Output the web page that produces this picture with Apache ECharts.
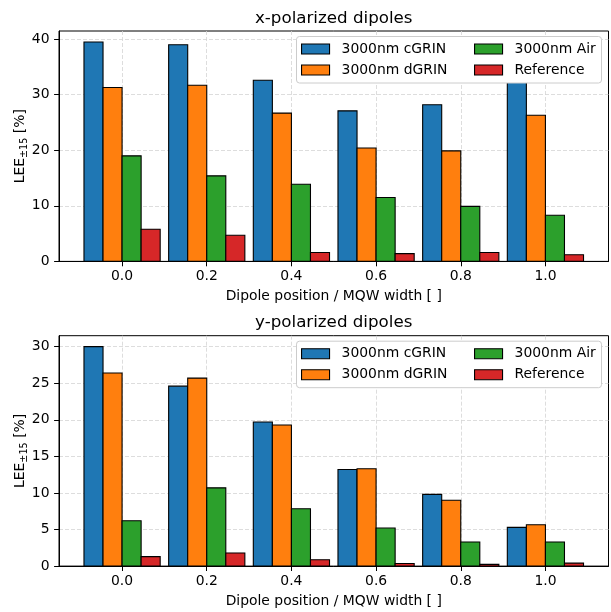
<!DOCTYPE html>
<html><head><meta charset="utf-8">
<script src="https://cdn.jsdelivr.net/npm/echarts@6/dist/echarts.min.js"></script>
<style>html,body{margin:0;padding:0;background:#fff}#c{width:611px;height:612px}</style>
</head><body><div id="c"></div>
<script>
// ---- data ----
const positions = [0.0, 0.2, 0.4, 0.6, 0.8, 1.0];
const seriesNames = ['3000nm cGRIN', '3000nm dGRIN', '3000nm Air', 'Reference'];
const xCGRIN = [39.5, 39.0, 32.6, 27.1, 28.2, 33.0];
const xDGRIN = [31.3, 31.7, 26.7, 20.4, 19.9, 26.3];
const xAir   = [19.0, 15.4, 13.9, 11.5, 9.9, 8.3];
const xRef   = [5.8, 4.7, 1.6, 1.4, 1.6, 1.2];
const yCGRIN = [30.0, 24.6, 19.7, 13.2, 9.8, 5.3];
const yDGRIN = [26.4, 25.7, 19.3, 13.3, 9.0, 5.65];
const yAir   = [6.2, 10.7, 7.85, 5.2, 3.3, 3.3];
const yRef   = [1.3, 1.8, 0.87, 0.36, 0.23, 0.41];
const xTicks = [0.0, 0.2, 0.4, 0.6, 0.8, 1.0];
const yTicksTop = [0, 10, 20, 30, 40];
const yTicksBottom = [0, 5, 10, 15, 20, 25, 30];
const titles = ['x-polarized dipoles', 'y-polarized dipoles'];
const xName = 'Dipole position / MQW width [ ]';
const yName = 'LEE{s|±15} [%]';

// ---- style ----
const FONT = 'DejaVu Sans';
const colors = ['#1f77b4', '#ff7f0e', '#2ca02c', '#d62728'];
const BAR_W = 0.045;
const X_MIN = -0.149, X_MAX = 1.149;
const gridTops = [31, 335.7];
const gridH = 230.4;
const GL = 59, GR = 2.5;

const groups = [
  {vals: [xCGRIN, xDGRIN, xAir, xRef], ticks: yTicksTop},
  {vals: [yCGRIN, yDGRIN, yAir, yRef], ticks: yTicksBottom}
];

const txt = {fontFamily: FONT, fontSize: 13.9, color: '#000'};
const splitStyle = {show: true, lineStyle: {color: '#d4d4d4', type: [4, 2], width: 0.8}};

const grid = [], xAxis = [], yAxis = [], series = [], legend = [], graphic = [];
groups.forEach((g, gi) => {
  const top = gridTops[gi];
  grid.push({left: GL, right: GR, top: top, height: gridH, show: true, containLabel: false,
    outerBoundsMode: 'none',
    borderColor: '#000', borderWidth: 1, backgroundColor: 'transparent'});
  xAxis.push({type: 'value', gridIndex: gi, min: X_MIN, max: X_MAX,
    axisLine: {show: true, onZero: false, lineStyle: {color: '#000', width: 1}},
    axisTick: {show: true, length: 4.9, customValues: xTicks, lineStyle: {color: '#000', width: 1}},
    axisLabel: Object.assign({customValues: xTicks, margin: 8, formatter: v => Number(v).toFixed(1)}, txt),
    splitLine: splitStyle, nameMoveOverlap: false,
    name: xName, nameLocation: 'middle', nameGap: 28, nameTextStyle: txt});
  const allVals = [].concat(...g.vals);
  yAxis.push({type: 'value', gridIndex: gi, min: 0, max: Math.max(...allVals) * 1.05,
    axisLine: {show: true, onZero: false, lineStyle: {color: '#000', width: 1}},
    axisTick: {show: true, length: 4.9, customValues: g.ticks, lineStyle: {color: '#000', width: 1}},
    axisLabel: Object.assign({customValues: g.ticks, margin: 9.5}, txt),
    splitLine: splitStyle, nameMoveOverlap: false,
    name: yName, nameLocation: 'middle', nameGap: 30,
    nameTextStyle: Object.assign({lineHeight: 18, rich: {s: {fontFamily: FONT, fontSize: 9.7, color: '#000', verticalAlign: 'bottom'}}}, txt)});
  g.vals.forEach((values, k) => {
    series.push({type: 'custom', name: seriesNames[k], xAxisIndex: gi, yAxisIndex: gi,
      itemStyle: {color: colors[k]}, encode: {x: 0, y: 1}, z: 2,
      data: positions.map((p, i) => [p, values[i]]),
      renderItem: (params, api) => {
        const c = api.value(0) + (k - 1.5) * BAR_W;
        const tl = api.coord([c - BAR_W / 2, api.value(1)]);
        const br = api.coord([c + BAR_W / 2, 0]);
        return {type: 'rect', shape: {x: tl[0], y: tl[1], width: br[0] - tl[0], height: br[1] - tl[1]},
          style: {fill: api.visual('color'), stroke: '#000', lineWidth: 1.1}};
      }});
  });
  // legend (2 columns)
  const legTop = top + 10;
  [[0, 1, 301], [2, 3, 474]].forEach(([a, b, lx]) => {
    legend.push({orient: 'vertical', left: lx, top: legTop, padding: 0, itemGap: 5,
      itemWidth: 28, itemHeight: 10, icon: 'rect', z: 6, selectedMode: false,
      itemStyle: {borderColor: '#000', borderWidth: 1.1},
      textStyle: Object.assign({padding: [0, 0, 0, 7], lineHeight: 16}, txt),
      data: [seriesNames[a], seriesNames[b]]});
  });
  graphic.push({type: 'rect', z: 5, shape: {x: 296.5, y: top + 5.5, width: 305, height: 46.5, r: 3},
    style: {fill: '#fff', stroke: '#cccccc', lineWidth: 1}});
  graphic.push({type: 'text', z: 5, x: GL + (611 - GL - GR) / 2, y: top - 12.7,
    style: {text: titles[gi], fontFamily: FONT, fontSize: 16.7, fill: '#000', align: 'center', verticalAlign: 'middle'}});
});

const chart = echarts.init(document.getElementById('c'), null, {renderer: 'canvas'});
chart.setOption({animation: false, backgroundColor: '#fff', grid, xAxis, yAxis, series, legend, graphic});
</script>
</body></html>
